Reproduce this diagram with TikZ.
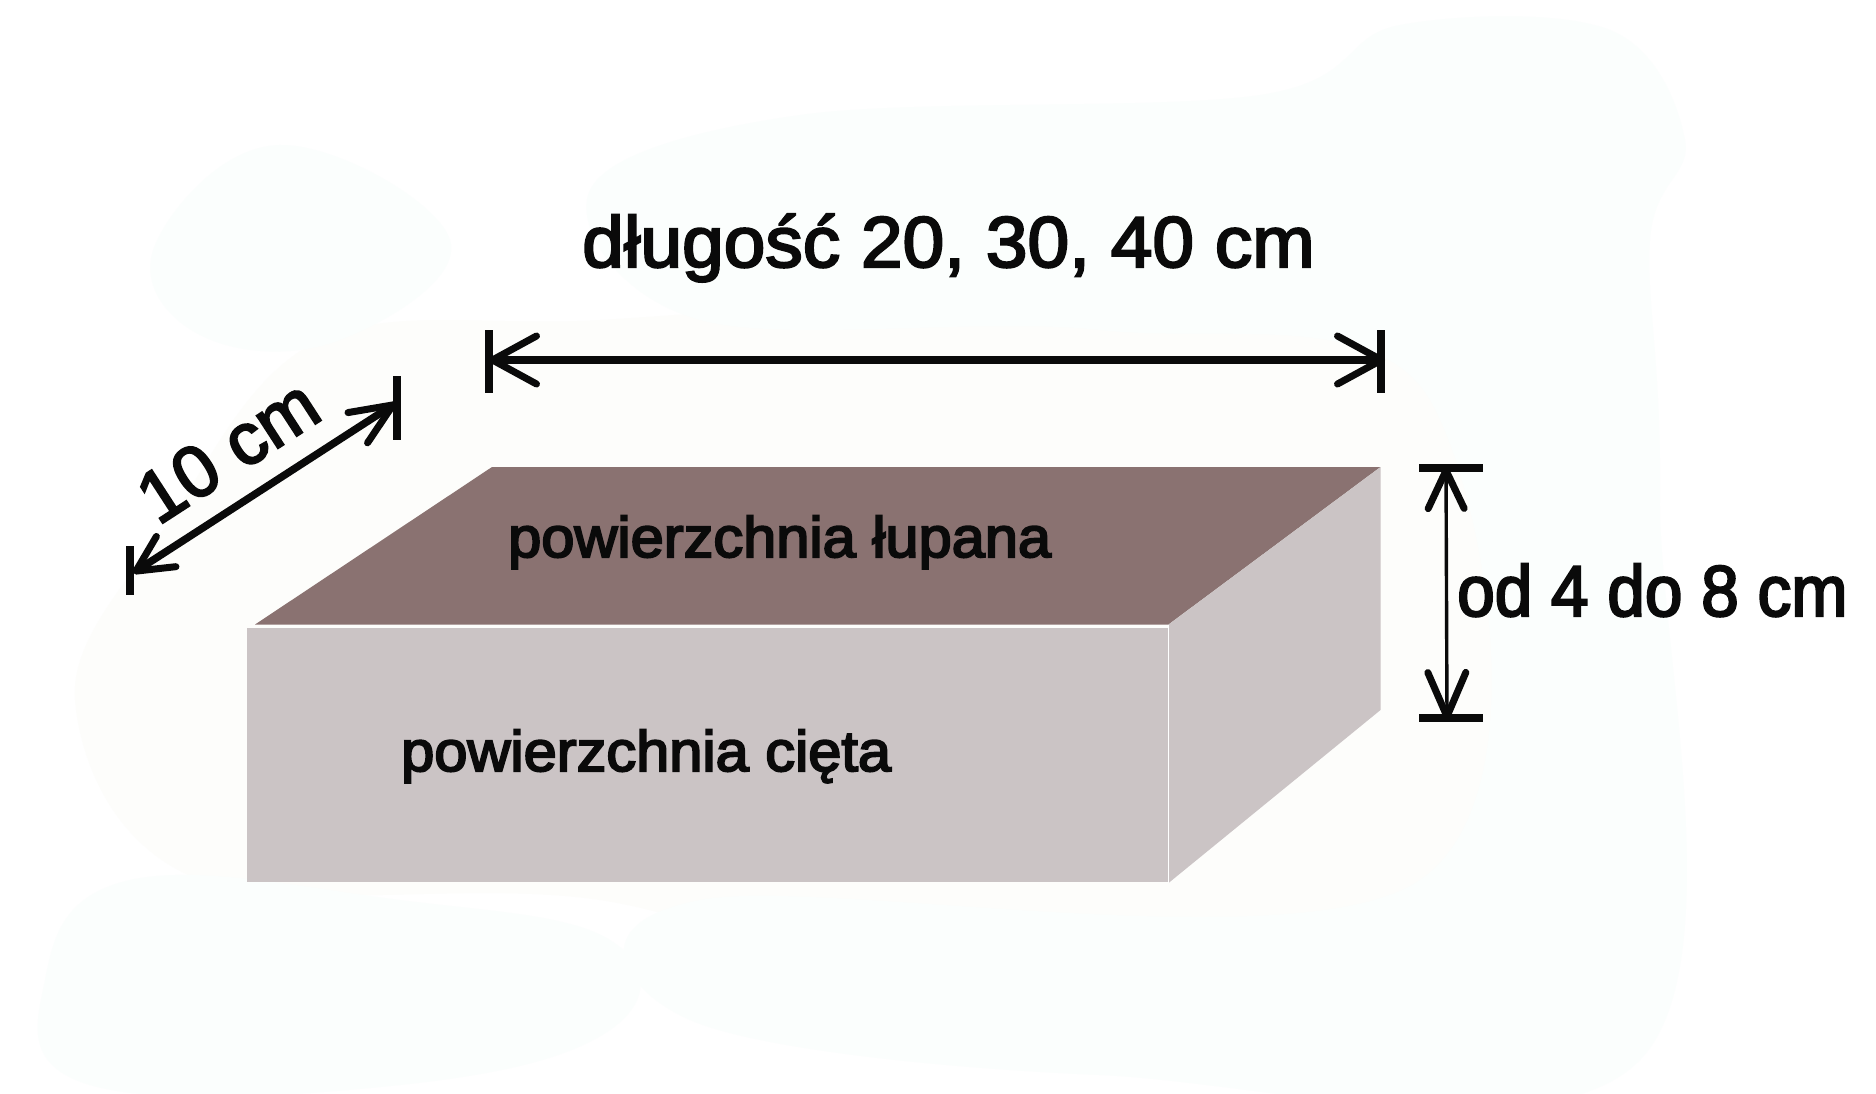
\documentclass[tikz,border=0pt]{standalone}
\usepackage{fontspec}
\setmainfont{Liberation Sans}
\newfontfamily\lenfont[FakeBold=3,FakeStretch=1.04]{Liberation Sans}
\newfontfamily\heifont[FakeBold=3,FakeStretch=0.938]{Liberation Sans}
\newfontfamily\facefont[FakeBold=3.5,FakeStretch=1.045]{Liberation Sans}
\newfontfamily\widfont[FakeBold=3]{Liberation Sans}
\usetikzlibrary{arrows.meta}
\definecolor{topface}{HTML}{8A7271}
\definecolor{sideface}{HTML}{CBC4C5}
\definecolor{ink}{HTML}{0A0A0A}
\definecolor{paperwarm}{HTML}{FDFDFB}
\definecolor{papercool}{HTML}{FBFEFD}
\tikzset{
  label text/.style={anchor=base west,inner sep=0pt,text=ink},
  dim bar/.style={draw=ink,line width=7.5pt},
  dim long/.style={draw=ink,line width=7.5pt,{Straight Barb[length=44pt,width=48pt,line width=7pt,round=false]}-{Straight Barb[length=44pt,width=48pt,line width=7pt,round=false]}},
  dim skew/.style={draw=ink,line width=7.5pt,{Straight Barb[length=36pt,width=36pt,line width=7pt,round=false]}-{Straight Barb[length=42pt,width=36pt,line width=7pt,round=false]}},
  dim high/.style={draw=ink,line width=3.4pt,{Straight Barb[length=38pt,width=36pt,line width=7pt,round=false]}-{Straight Barb[length=44pt,width=38pt,line width=7pt,round=false]}},
}
\begin{document}
\begin{tikzpicture}[x=1pt,y=-1pt]
\useasboundingbox (0,0) rectangle (1876,1094);
\fill[white] (0,0) rectangle (1876,1094);
% faint background washes
\fill[paperwarm] plot[smooth cycle,tension=.6] coordinates {(75,700) (170,520) (320,340) (600,320) (1000,300) (1430,330) (1450,900) (1000,1000) (600,900) (200,880)};
\fill[papercool] plot[smooth cycle,tension=.7] coordinates {(155,245) (280,145) (450,240) (340,340) (200,335)};
\fill[papercool] plot[smooth cycle,tension=.6] coordinates {(590,190) (800,115) (1260,95) (1400,25) (1610,30) (1685,140) (1650,240) (1660,500) (1640,1060) (1100,1075) (690,1020) (700,900) (1420,880) (1430,400) (1100,330) (700,320)};
\fill[papercool] plot[smooth cycle,tension=.7] coordinates {(45,980) (130,880) (400,900) (610,940) (610,1030) (400,1085) (90,1085)};
% block
\fill[topface] (255,624.5) -- (492,467) -- (1380.5,467) -- (1168.5,624.5) -- cycle;
\fill[sideface] (1168.5,624.5) -- (1380.5,467) -- (1380.5,710) -- (1168.5,883) -- cycle;
\fill[sideface] (247,628) rectangle (1167.5,882);
\draw[white,line width=1pt] (1168,625) -- (1168,883);
% length
\coordinate (lenA) at (489,360);
\coordinate (lenB) at (1385,360);
\draw[dim bar] (489,330) -- (489,393);
\draw[dim bar] (1381,330) -- (1381,393);
\draw[dim long] (lenA) -- (lenB);
% width
\coordinate (widA) at (133,573);
\coordinate (widB) at (396,403);
\draw[dim bar] (130,546) -- (130,595);
\draw[dim bar] (397,376) -- (397,440);
\draw[dim skew] (widA) -- (widB);
% height
\coordinate (heiA) at (1446,467);
\coordinate (heiB) at (1447,720);
\draw[dim bar] (1419,468) -- (1483,468);
\draw[dim bar] (1419,718) -- (1483,718);
\draw[dim high] (heiA) -- (heiB);
% labels
\node[label text,font=\lenfont\fontsize{72}{72}\selectfont] (lenL) at (582,267) {długość 20, 30, 40 cm};
\node[label text,font=\heifont\fontsize{72}{72}\selectfont] (heiL) at (1457,616) {od 4 do 8 cm};
\node[label text,font=\facefont\fontsize{57}{57}\selectfont] (topL) at (508,557) {powierzchnia łupana};
\node[label text,font=\facefont\fontsize{57}{57}\selectfont] (frontL) at (401,771) {powierzchnia cięta};
\node[label text,font=\widfont\fontsize{73}{73}\selectfont,rotate=33] (widL) at (158,526) {10 cm};
\end{tikzpicture}
\end{document}
